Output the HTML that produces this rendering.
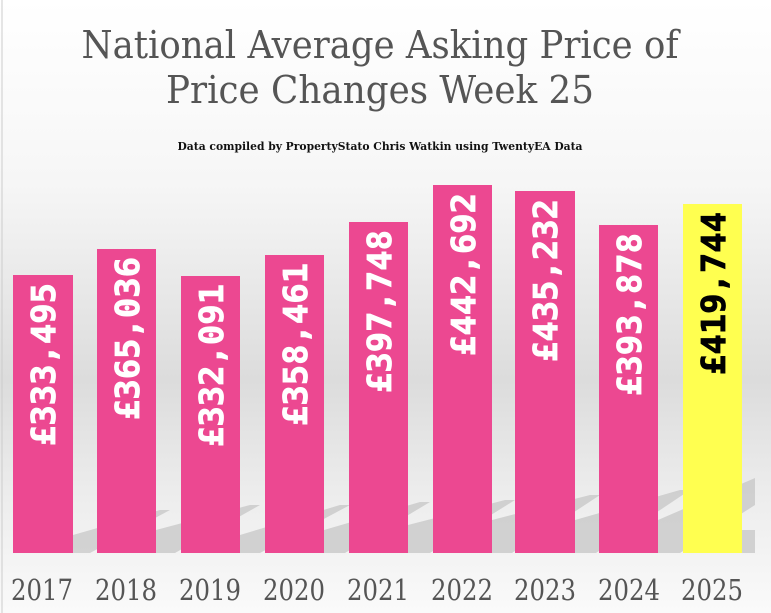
<!DOCTYPE html>
<html><head><meta charset="utf-8"><style>
html,body{margin:0;padding:0;width:771px;height:613px;overflow:hidden}
</style></head><body>
<svg width="771" height="613" viewBox="0 0 771 613" xmlns="http://www.w3.org/2000/svg">
<defs>
<linearGradient id="bg" x1="0" y1="0" x2="0" y2="1">
<stop offset="0" stop-color="#ffffff"/>
<stop offset="0.3" stop-color="#f6f6f6"/>
<stop offset="0.62" stop-color="#dcdcdc"/>
<stop offset="0.8" stop-color="#ececec"/>
<stop offset="1" stop-color="#fafafa"/>
</linearGradient>
</defs>
<rect width="771" height="613" fill="url(#bg)"/>
<line x1="2" y1="0" x2="2" y2="613" stroke="#ccc" stroke-width="1"/>
<g fill="#c4c4c4" opacity="0.7">
<polygon points="73,553 73,535 160,510 170,510 90,553"/>
<polygon points="156,553 156,530 250,505 260,505 175,553"/>
<polygon points="240,553 240,535 340,505 350,505 260,553"/>
<polygon points="324,553 324,530 420,502 430,502 345,553"/>
<polygon points="408,553 408,525 505,500 515,500 430,553"/>
<polygon points="492,553 492,520 590,495 600,495 512,553"/>
<polygon points="575,553 575,520 680,490 690,490 596,553"/>
<polygon points="658,553 658,520 755,478 755,505 680,553"/>
<polygon points="742,553 742,530 755,530 755,553"/>
</g>
<g font-family="'DejaVu Serif','Liberation Serif',serif" fill="#555">
<text x="380" y="58" font-size="38" text-anchor="middle" textLength="597" lengthAdjust="spacingAndGlyphs">National Average Asking Price of</text>
<text x="380" y="103" font-size="38" text-anchor="middle" textLength="428" lengthAdjust="spacingAndGlyphs">Price Changes Week 25</text>
<text x="380" y="150" font-size="11" font-weight="bold" fill="#111" text-anchor="middle" textLength="405" lengthAdjust="spacingAndGlyphs">Data compiled by PropertyStato Chris Watkin using TwentyEA Data</text>
</g>
<g fill="#ec4891">
<rect x="13" y="275" width="60" height="278"/>
<rect x="97" y="249" width="59" height="304"/>
<rect x="181" y="276" width="59" height="277"/>
<rect x="265" y="255" width="59" height="298"/>
<rect x="349" y="222" width="59" height="331"/>
<rect x="433" y="185" width="59" height="368"/>
<rect x="515" y="191" width="60" height="362"/>
<rect x="599" y="225" width="59" height="328"/>
</g>
<rect x="683" y="204" width="59" height="349" fill="#ffff50"/>
<g font-family="'DejaVu Sans Mono','Liberation Mono',monospace" font-weight="bold" font-size="33" fill="#fff" stroke="#fff" stroke-width="0.8">
<text transform="translate(55,446) rotate(-90)" textLength="163" lengthAdjust="spacingAndGlyphs">£333,495</text>
<text transform="translate(139,420) rotate(-90)" textLength="163" lengthAdjust="spacingAndGlyphs">£365,036</text>
<text transform="translate(223,447) rotate(-90)" textLength="163" lengthAdjust="spacingAndGlyphs">£332,091</text>
<text transform="translate(307,426) rotate(-90)" textLength="163" lengthAdjust="spacingAndGlyphs">£358,461</text>
<text transform="translate(391,393) rotate(-90)" textLength="163" lengthAdjust="spacingAndGlyphs">£397,748</text>
<text transform="translate(475,356) rotate(-90)" textLength="163" lengthAdjust="spacingAndGlyphs">£442,692</text>
<text transform="translate(557,362) rotate(-90)" textLength="163" lengthAdjust="spacingAndGlyphs">£435,232</text>
<text transform="translate(641,396) rotate(-90)" textLength="163" lengthAdjust="spacingAndGlyphs">£393,878</text>
<text transform="translate(725,375) rotate(-90)" fill="#000" stroke="#000" textLength="163" lengthAdjust="spacingAndGlyphs">£419,744</text>
</g>
<g font-family="'DejaVu Serif','Liberation Serif',serif" font-size="29" fill="#555" text-anchor="middle">
<text x="42" y="600" textLength="62" lengthAdjust="spacingAndGlyphs">2017</text>
<text x="126" y="600" textLength="62" lengthAdjust="spacingAndGlyphs">2018</text>
<text x="210" y="600" textLength="62" lengthAdjust="spacingAndGlyphs">2019</text>
<text x="294" y="600" textLength="62" lengthAdjust="spacingAndGlyphs">2020</text>
<text x="378" y="600" textLength="62" lengthAdjust="spacingAndGlyphs">2021</text>
<text x="462" y="600" textLength="62" lengthAdjust="spacingAndGlyphs">2022</text>
<text x="545" y="600" textLength="62" lengthAdjust="spacingAndGlyphs">2023</text>
<text x="629" y="600" textLength="62" lengthAdjust="spacingAndGlyphs">2024</text>
<text x="712" y="600" textLength="62" lengthAdjust="spacingAndGlyphs">2025</text>
</g>
</svg>
</body></html>
